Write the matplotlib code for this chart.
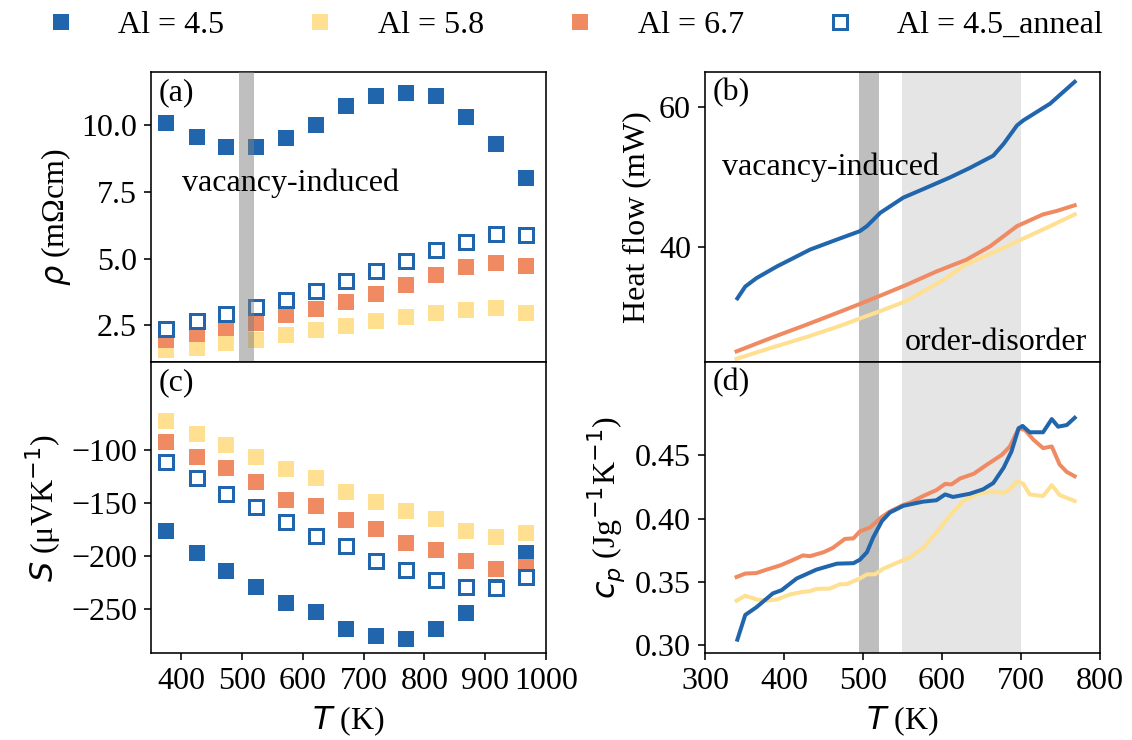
"""
Resistivity, Seebeck, heat flow and heat capacity vs temperature for Al-doped samples
"""
import matplotlib.pyplot as plt

plt.rcParams['font.family'] = 'serif'
plt.rcParams['font.serif'] = ['Liberation Serif', 'DejaVu Serif']
plt.rcParams['mathtext.fontset'] = 'dejavusans'
plt.rcParams['font.size'] = 16

# transport measurements (left column)
T_meas = [375, 425, 474, 523, 572, 622, 671, 720, 770, 819, 868, 918, 967]
rho_45 = [10.10, 9.56, 9.20, 9.20, 9.53, 10.03, 10.72, 11.11, 11.21, 11.10, 10.32, 9.30, 8.01]
rho_58 = [1.57, 1.66, 1.83, 1.95, 2.12, 2.31, 2.48, 2.66, 2.80, 2.94, 3.07, 3.13, 2.94]
rho_67 = [1.95, 2.17, 2.39, 2.59, 2.88, 3.09, 3.37, 3.68, 4.01, 4.39, 4.69, 4.82, 4.72]
rho_45a = [2.37, 2.64, 2.92, 3.17, 3.44, 3.79, 4.15, 4.53, 4.92, 5.33, 5.61, 5.91, 5.87]

S_45 = [-176.0, -196.8, -214.0, -228.9, -243.8, -252.8, -268.1, -274.9, -278.0, -268.1, -253.7, -228.9, -196.8]
S_58 = [-73.4, -84.9, -95.1, -106.7, -118.5, -126.3, -139.4, -148.7, -157.4, -165.5, -176.0, -181.6, -178.5]
S_67 = [-93.0, -106.7, -117.5, -130.3, -147.4, -152.7, -165.8, -174.4, -187.9, -193.8, -204.7, -211.8, -210.0]
S_45a = [-111.4, -126.9, -141.8, -153.4, -167.6, -180.7, -190.7, -204.7, -212.7, -222.7, -228.9, -230.1, -219.6]

# DSC heat flow (right top)
T_hf_45 = [341, 351, 365, 391, 408, 433, 467, 496, 505, 522, 551, 576, 610, 635, 665, 678, 695, 703, 737, 768]
hf_45 = [32.66, 34.35, 35.54, 37.22, 38.19, 39.63, 41.06, 42.26, 42.98, 44.89, 47.05, 48.26,
         49.93, 51.28, 53.05, 54.73, 57.37, 58.09, 60.49, 63.6]
T_hf_58 = [340, 387, 429, 471, 496, 522, 555, 576, 602, 631, 661, 703, 737, 768]
hf_58 = [24.03, 25.71, 27.15, 28.73, 29.78, 30.85, 32.29, 33.63, 35.31, 37.55, 38.99, 41.21, 42.98, 44.66]
T_hf_67 = [340, 387, 429, 471, 496, 522, 555, 593, 631, 661, 695, 728, 745, 768]
hf_67 = [25.09, 27.15, 28.92, 30.75, 31.86, 33.05, 34.59, 36.50, 38.19, 40.10, 42.98, 44.66, 45.14, 45.96]

# heat capacity (right bottom)
T_cp_45 = [341, 351, 365, 386, 397, 416, 441, 467, 488, 496, 505, 513, 524, 534, 551, 576,
           593, 604, 614, 635, 652, 665, 678, 688, 697, 702, 711, 728, 739, 747, 758, 768]
cp_45 = [0.3045, 0.324, 0.330, 0.341, 0.3435, 0.3527, 0.3597, 0.3644, 0.3648, 0.3675, 0.3734,
         0.3852, 0.398, 0.4047, 0.410, 0.4133, 0.4144, 0.419, 0.417, 0.4195, 0.423, 0.428,
         0.440, 0.4529, 0.4711, 0.473, 0.468, 0.468, 0.4784, 0.4724, 0.4737, 0.4794]
T_cp_58 = [340, 351, 365, 378, 391, 408, 424, 433, 441, 458, 471, 479, 496, 505, 515, 526, 543,
           560, 576, 593, 610, 627, 644, 661, 678, 686, 695, 703, 711, 728, 739, 749, 768]
cp_58 = [0.3352, 0.3391, 0.3362, 0.3352, 0.3362, 0.3402, 0.3422, 0.3427, 0.3445, 0.3448, 0.3482,
         0.3482, 0.3527, 0.356, 0.356, 0.3605, 0.3651, 0.3695, 0.3769, 0.389, 0.4021, 0.4138,
         0.419, 0.4211, 0.4203, 0.423, 0.4295, 0.4273, 0.419, 0.4177, 0.4263, 0.4185, 0.4138]
T_cp_67 = [340, 351, 365, 378, 395, 408, 424, 433, 450, 462, 477, 488, 496, 509, 524, 534, 551,
           560, 576, 593, 604, 612, 623, 640, 657, 676, 686, 697, 705, 716, 728, 739, 749, 758, 768]
cp_67 = [0.3539, 0.3566, 0.357, 0.3597, 0.363, 0.3664, 0.3709, 0.3703, 0.3734, 0.3769, 0.3839,
         0.3844, 0.3898, 0.393, 0.4013, 0.4055, 0.4107, 0.4125, 0.4177, 0.4224, 0.4273, 0.4269,
         0.4316, 0.4352, 0.4425, 0.4503, 0.4568, 0.4711, 0.4698, 0.462, 0.4555, 0.4568, 0.4425,
         0.4367, 0.4333]

labels = ['Al = 4.5', 'Al = 5.8', 'Al = 6.7', 'Al = 4.5_anneal']
blue, yellow, orange = '#2166ac', '#fee090', '#ef8a62'

fig = plt.figure(figsize=(1132 / 144, 740 / 144), dpi=144)
gs = fig.add_gridspec(2, 2, left=0.1334, right=0.9717, top=0.9027, bottom=0.1176,
                      hspace=0, wspace=0.4025)
ax_a = fig.add_subplot(gs[0, 0])
ax_c = fig.add_subplot(gs[1, 0], sharex=ax_a)
ax_b = fig.add_subplot(gs[0, 1])
ax_d = fig.add_subplot(gs[1, 1], sharex=ax_b)

mk = dict(marker='s', ms=7, linestyle='none')
for ax, series in [(ax_a, [rho_45, rho_58, rho_67, rho_45a]),
                   (ax_c, [S_45, S_58, S_67, S_45a])]:
    h1, = ax.plot(T_meas, series[0], color=blue, **mk)
    h2, = ax.plot(T_meas, series[1], color=yellow, **mk)
    h3, = ax.plot(T_meas, series[2], color=orange, **mk)
    h4, = ax.plot(T_meas, series[3], color=blue, mfc='white', mew=1.5, **mk)
handles = [h1, h2, h3, h4]

# transition windows
ax_a.axvspan(495, 520, color='grey', alpha=0.5, lw=0, zorder=3)
for ax in (ax_b, ax_d):
    ax.axvspan(495, 520, color='#bebebe', lw=0, zorder=0)
    ax.axvspan(550, 700, color='#e5e5e5', lw=0, zorder=0)

ax_b.plot(T_hf_45, hf_45, color=blue, lw=2)
ax_b.plot(T_hf_58, hf_58, color=yellow, lw=2)
ax_b.plot(T_hf_67, hf_67, color=orange, lw=2)
ax_d.plot(T_cp_58, cp_58, color=yellow, lw=2)
ax_d.plot(T_cp_67, cp_67, color=orange, lw=2)
ax_d.plot(T_cp_45, cp_45, color=blue, lw=2)

ax_a.set_xlim(350, 1000)
ax_a.set_xticks(range(400, 1001, 100))
ax_a.set_ylim(1.1, 12.0)
ax_a.set_yticks([2.5, 5.0, 7.5, 10.0])
ax_c.set_ylim(-291, -18)
ax_c.set_yticks([-250, -200, -150, -100])

ax_b.set_xlim(300, 800)
ax_b.set_xticks(range(300, 801, 100))
ax_b.set_ylim(23.5, 65)
ax_b.set_yticks([40, 60])
ax_d.set_ylim(0.294, 0.523)
ax_d.set_yticks([0.30, 0.35, 0.40, 0.45])

for ax in (ax_a, ax_b):
    ax.tick_params(axis='x', bottom=False, labelbottom=False)

ax_a.set_ylabel(r'$\rho$ (mΩcm)')
ax_c.set_ylabel(r'$S$ (μVK$^{-1}$)')
ax_b.set_ylabel('Heat flow (mW)')
ax_d.set_ylabel(r'$c_p$ (Jg$^{-1}$K$^{-1}$)')
ax_c.set_xlabel(r'$T$ (K)')
ax_d.set_xlabel(r'$T$ (K)')

for ax, tag in zip([ax_a, ax_b, ax_c, ax_d], ['(a)', '(b)', '(c)', '(d)']):
    ax.text(0.02, 0.98, tag, transform=ax.transAxes, va='top', ha='left')

ax_a.text(0.078, 0.618, 'vacancy-induced', transform=ax_a.transAxes, va='center', ha='left')
ax_b.text(0.042, 0.671, 'vacancy-induced', transform=ax_b.transAxes, va='center', ha='left')
ax_b.text(0.506, 0.069, 'order-disorder', transform=ax_b.transAxes, va='center', ha='left')

fig.legend(handles, labels, loc='center', bbox_to_anchor=(0, 1 - 25 / 740, 1, 0),
           ncol=4, mode='expand', frameon=False)

fig.savefig('out.png', dpi=144)
